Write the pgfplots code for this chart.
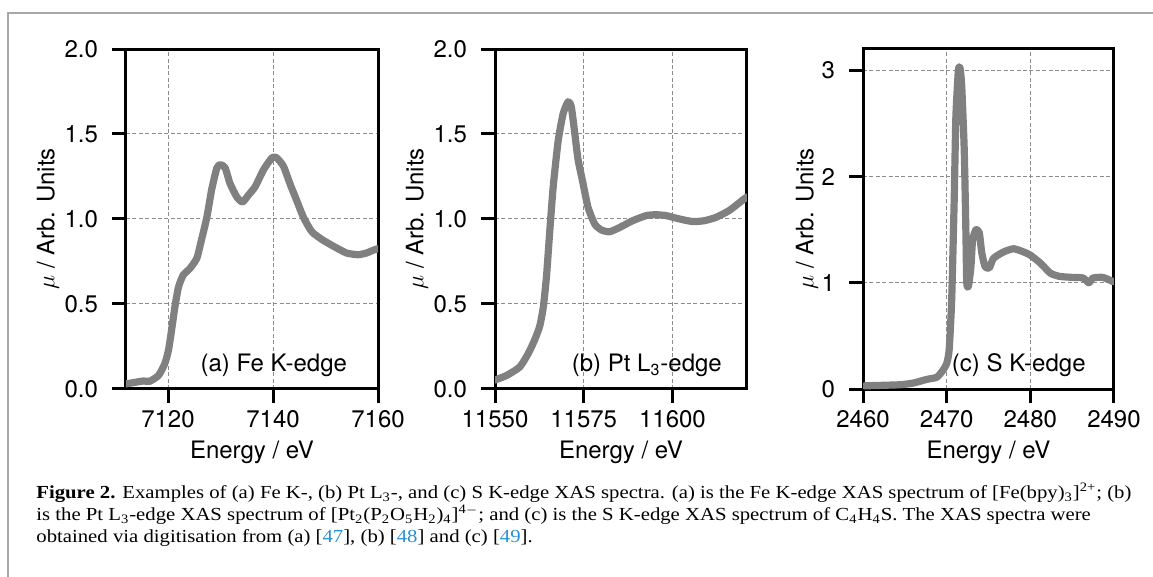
\documentclass[border=0pt]{standalone}
\usepackage{pgfplots}
\pgfplotsset{compat=1.18}
\usepackage{fontspec}
\setmainfont{TeX Gyre Heros}
\newfontfamily\capfont[FakeStretch=1.127]{Liberation Serif}
\definecolor{curve}{HTML}{808080}
\definecolor{gridc}{HTML}{8C8C8C}
\definecolor{framec}{HTML}{A8A8A8}
\definecolor{refblue}{HTML}{2A8FD0}
\newcommand{\lf}{\fontsize{12}{14}\selectfont}
\pgfplotsset{
  panel/.style={
    scale only axis, height=170pt, anchor=south west,
    axis line style={line width=1.5pt},
    tick align=outside, major tick length=7pt,
    every tick/.style={black, line width=1.5pt},
    xtick pos=bottom, ytick pos=left,
    minor tick num=0,
    grid=major,
    major grid style={color=gridc, line width=0.5pt, dash pattern=on 2pt off 1.2pt},
    tick label style={font=\lf},
    yticklabel style={xshift=-3.5pt},
    /pgf/number format/assume math mode=true,
    /pgf/number format/1000 sep={},
    scaled x ticks=false,
    xticklabel style={/pgf/number format/.cd, fixed, precision=0, 1000 sep={}},
    xlabel={Energy / eV},
    ylabel={$\mu$ / Arb. Units},
    every axis x label/.style={at={(axis description cs:0.5,-0.185)}, anchor=center, font=\lf},
    clip=true,
  },
  curvest/.style={color=curve, line width=3.6pt, line join=round, line cap=round, smooth, tension=0.35},
}
\begin{document}
\begin{tikzpicture}
\path[use as bounding box] (0,0) rectangle (576.5pt,-288.5pt);
\draw[framec, line width=1pt] (4.15pt,-288.5pt) -- (4.15pt,-6.6pt) -- (576.5pt,-6.6pt);

% (a)
\begin{axis}[panel, at={(63pt,-194.5pt)}, width=126pt,
  xmin=7112, xmax=7160, ymin=0, ymax=2,
  xtick={7120,7140,7160}, ytick={0,0.5,1,1.5,2},
  yticklabel style={/pgf/number format/.cd, fixed, fixed zerofill, precision=1},
  every axis y label/.style={at={(axis description cs:-0.3095,0.5)}, rotate=90, anchor=center, font=\lf}]
\addplot[curvest] coordinates {
(7112,0.03) (7115.3,0.047) (7116.5,0.045) (7118.2,0.08) (7119.4,0.15) (7120.1,0.23)
(7120.7,0.35) (7121.3,0.48) (7122,0.60) (7122.9,0.67) (7124.2,0.71) (7125.5,0.77)
(7126.4,0.88) (7127.4,1.01) (7128.3,1.17) (7129.3,1.30) (7130.0,1.32) (7130.9,1.30)
(7131.8,1.21) (7133.1,1.13) (7134.2,1.10) (7135.3,1.14) (7136.6,1.19) (7138.2,1.29)
(7139.8,1.36) (7140.7,1.36) (7142.0,1.31) (7143.2,1.21) (7144.5,1.11) (7145.8,1.01)
(7147.4,0.925) (7149.3,0.88) (7151.5,0.84) (7154.0,0.80) (7156.2,0.79) (7157.8,0.80)
(7159.4,0.82) (7160,0.825)
};
\node[anchor=base east, font=\lf] at (axis description cs:0.905,0.05) {(a) Fe K-edge};
\end{axis}

% (b)
\begin{axis}[panel, at={(247.5pt,-194.5pt)}, width=126pt,
  xmin=11550, xmax=11621, ymin=0, ymax=2,
  xtick={11550,11575,11600}, ytick={0,0.5,1,1.5,2},
  yticklabel style={/pgf/number format/.cd, fixed, fixed zerofill, precision=1},
  every axis y label/.style={at={(axis description cs:-0.3095,0.5)}, rotate=90, anchor=center, font=\lf}]
\addplot[curvest] coordinates {
(11550,0.053) (11553.3,0.08) (11557,0.13) (11559.4,0.21) (11561.2,0.29) (11562.6,0.37)
(11563.6,0.48) (11564.5,0.66) (11565.4,0.92) (11566.4,1.19) (11567.8,1.46) (11569.2,1.62)
(11570.6,1.69) (11571.5,1.66) (11572.5,1.50) (11573.4,1.35) (11574.8,1.21) (11576.2,1.07)
(11578.1,0.97) (11580,0.935) (11582.3,0.925) (11585.1,0.95) (11588.8,0.99) (11592.6,1.02)
(11595.4,1.025) (11598.2,1.02) (11602,1.00) (11605.7,0.985) (11609,0.99) (11612.3,1.01)
(11616,1.05) (11619.7,1.11) (11621,1.13)
};
\node[anchor=base east, font=\lf] at (axis description cs:0.928,0.05) {(b) Pt L\textsubscript{3}-edge};
\end{axis}

% (c)
\begin{axis}[panel, at={(431.5pt,-194.5pt)}, width=125.5pt,
  xmin=2460, xmax=2490, ymin=0, ymax=3.2,
  xtick={2460,2470,2480,2490}, ytick={0,1,2,3},
  every axis y label/.style={at={(axis description cs:-0.223,0.5)}, rotate=90, anchor=center, font=\lf}]
\addplot[curvest] coordinates {
(2460.2,0.03) (2464.4,0.04) (2466,0.056) (2467.6,0.09) (2468.8,0.11) (2469.5,0.17)
(2470,0.24) (2470.3,0.37) (2470.6,0.84) (2470.9,1.78) (2471.1,2.56) (2471.4,3.0)
(2471.6,3.02) (2471.8,2.85) (2472.1,2.25) (2472.3,1.47) (2472.4,1.0) (2472.6,0.965)
(2472.9,1.15) (2473.1,1.40) (2473.5,1.50) (2473.9,1.47) (2474.2,1.28) (2474.6,1.15)
(2475.1,1.14) (2475.6,1.23) (2476.8,1.29) (2478,1.32) (2479.2,1.29) (2480,1.26)
(2481.2,1.185) (2482.4,1.09) (2483.5,1.06) (2485.1,1.05) (2486.3,1.045) (2487,1.0)
(2487.5,1.045) (2488.7,1.05) (2489.9,1.01)
};
\node[anchor=base east, font=\lf] at (axis description cs:0.915,0.05) {(c) S K-edge};
\end{axis}

% caption
\begin{scope}[every node/.style={anchor=base west, inner sep=0pt, font=\capfont\fontsize{9.2}{11}\selectfont}]
\node at (18pt,-249.5pt) {\textbf{Figure 2.} Examples of (a) Fe K-, (b) Pt L\textsubscript{3}-, and (c) S K-edge XAS spectra. (a) is the Fe K-edge XAS spectrum of [Fe(bpy)\textsubscript{3}]\textsuperscript{2+}; (b)};
\node at (18pt,-260.5pt) {is the Pt L\textsubscript{3}-edge XAS spectrum of [Pt\textsubscript{2}(P\textsubscript{2}O\textsubscript{5}H\textsubscript{2})\textsubscript{4}]\textsuperscript{4$-$}; and (c) is the S K-edge XAS spectrum of C\textsubscript{4}H\textsubscript{4}S. The XAS spectra were};
\node at (18pt,-271.5pt) {obtained via digitisation from (a) [\textcolor{refblue}{47}], (b) [\textcolor{refblue}{48}] and (c) [\textcolor{refblue}{49}].};
\end{scope}
\end{tikzpicture}
\end{document}
